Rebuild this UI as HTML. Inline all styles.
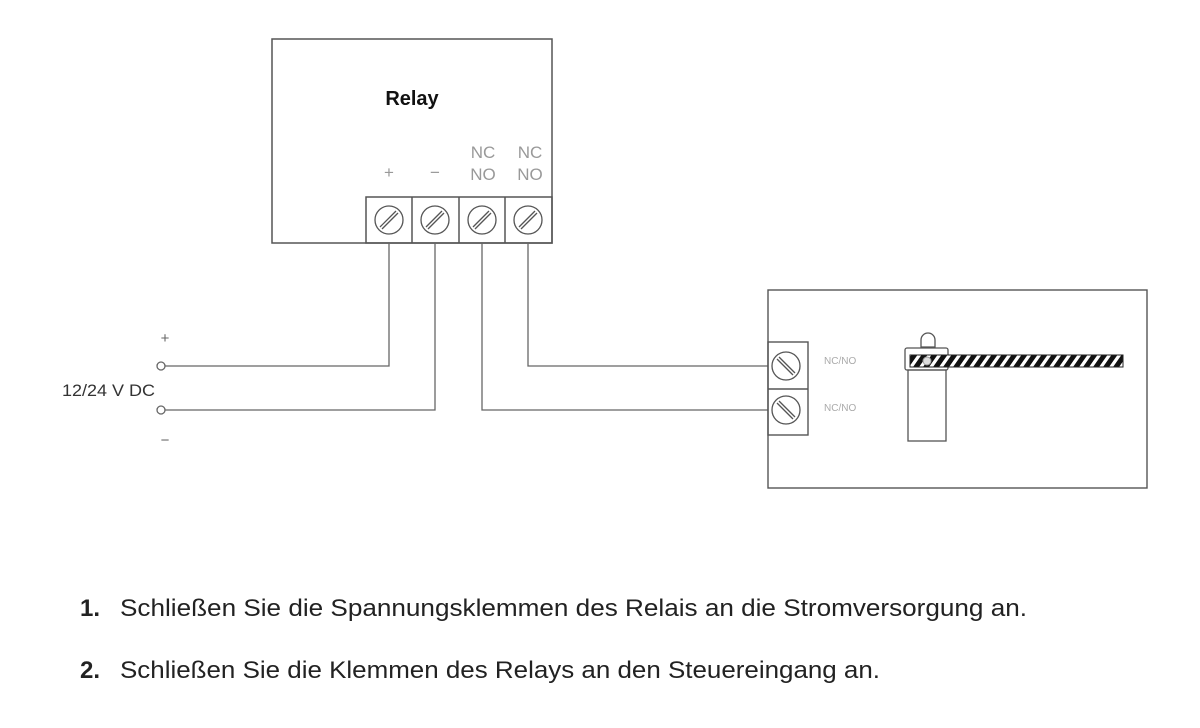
<!DOCTYPE html>
<html><head><meta charset="utf-8"><style>
html,body{margin:0;padding:0;background:#fff;}
svg{display:block;}
</style></head><body>
<svg width="1200" height="728" viewBox="0 0 1200 728" xmlns="http://www.w3.org/2000/svg">
<defs>
<pattern id="hatch" patternUnits="userSpaceOnUse" width="10" height="12" patternTransform="skewX(-35)">
<rect width="10" height="12" fill="#fff"/><rect width="6" height="12" fill="#111"/>
</pattern>
</defs>
<g fill="none" stroke="#555" stroke-width="1.5">
<rect x="272" y="39" width="280" height="204"/>
<rect x="366" y="197" width="186" height="46"/>
<line x1="412" y1="197" x2="412" y2="243"/>
<line x1="459" y1="197" x2="459" y2="243"/>
<line x1="505" y1="197" x2="505" y2="243"/>
</g>
<g fill="none" stroke="#555" stroke-width="1.3">
<g transform="translate(389,220)"><circle r="14"/><line x1="-9" y1="7" x2="7" y2="-9"/><line x1="-7" y1="9" x2="9" y2="-7"/></g>
<g transform="translate(435,220)"><circle r="14"/><line x1="-9" y1="7" x2="7" y2="-9"/><line x1="-7" y1="9" x2="9" y2="-7"/></g>
<g transform="translate(482,220)"><circle r="14"/><line x1="-9" y1="7" x2="7" y2="-9"/><line x1="-7" y1="9" x2="9" y2="-7"/></g>
<g transform="translate(528,220)"><circle r="14"/><line x1="-9" y1="7" x2="7" y2="-9"/><line x1="-7" y1="9" x2="9" y2="-7"/></g>
</g>
<g fill="none" stroke="#666" stroke-width="1.3">
<polyline points="389,243 389,366 165,366"/>
<polyline points="435,243 435,410 165,410"/>
<polyline points="482,243 482,410 768,410"/>
<polyline points="528,243 528,366 768,366"/>
<circle cx="161" cy="366" r="4" fill="#fff"/>
<circle cx="161" cy="410" r="4" fill="#fff"/>
</g>
<g fill="none" stroke="#555" stroke-width="1.4">
<rect x="768" y="290" width="379" height="198"/>
<rect x="768" y="342" width="40" height="93"/>
<line x1="768" y1="389" x2="808" y2="389"/>
</g>
<g fill="none" stroke="#555" stroke-width="1.3">
<g transform="translate(786,366)"><circle r="14"/><line x1="-9" y1="-7" x2="7" y2="9"/><line x1="-7" y1="-9" x2="9" y2="7"/></g>
<g transform="translate(786,410)"><circle r="14"/><line x1="-9" y1="-7" x2="7" y2="9"/><line x1="-7" y1="-9" x2="9" y2="7"/></g>
<rect x="908" y="370" width="38" height="71"/>
<rect x="905" y="348" width="43" height="22" rx="2"/>
<path d="M921 347 V340 A7 7 0 0 1 935 340 V347 Z"/>
</g>
<rect x="910" y="355" width="213" height="12" fill="url(#hatch)" stroke="#222" stroke-width="1"/>
<circle cx="927" cy="361" r="4" fill="#ddd" stroke="#999"/>
<g font-family="Liberation Sans, sans-serif">
<text x="412" y="105" font-size="20" font-weight="bold" text-anchor="middle" fill="#111">Relay</text>
<g font-size="17" fill="#999" text-anchor="middle">
<text x="389" y="178">+</text><text x="435" y="178">−</text>
<text x="483" y="158">NC</text><text x="483" y="180">NO</text>
<text x="530" y="158">NC</text><text x="530" y="180">NO</text>
</g>
<g font-size="10" fill="#aaa"><text x="824" y="364">NC/NO</text><text x="824" y="411">NC/NO</text></g>
<g font-size="15" fill="#666" text-anchor="middle"><text x="165" y="343">+</text><text x="165" y="445">−</text></g>
<text x="62" y="396" font-size="17" fill="#333" textLength="93" lengthAdjust="spacingAndGlyphs">12/24 V DC</text>
<g font-size="24" fill="#222">
<text x="80" y="616" font-weight="bold">1.</text>
<text x="120" y="616" textLength="907" lengthAdjust="spacingAndGlyphs">Schließen Sie die Spannungsklemmen des Relais an die Stromversorgung an.</text>
<text x="80" y="678" font-weight="bold">2.</text>
<text x="120" y="678" textLength="760" lengthAdjust="spacingAndGlyphs">Schließen Sie die Klemmen des Relays an den Steuereingang an.</text>
</g>
</g>
</svg>
</body></html>
